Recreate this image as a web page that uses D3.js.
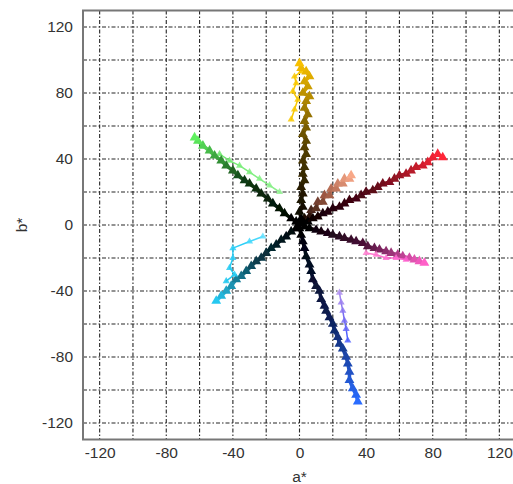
<!DOCTYPE html>
<html>
<head>
<meta charset="utf-8">
<script src="https://cdn.jsdelivr.net/npm/d3@7"></script>
<style>
  body { margin: 0; background: #fff; }
  text { font-family: "Liberation Sans", Arial, sans-serif; }
</style>
</head>
<body>
<div id="chart"></div>
<script>
// a*, b* pairs, one array per sample series
const yellowPts = [[0,1],[1,4],[0,8],[2,11],[1,15],[2,19],[1,23],[3,27],[2,31],[3,35],[2,39],[4,43],[3,47],[4,51],[2,55],[4,59],[3,63],[5,67],[3,71],[4,75],[6,78],[2,80],[5,84],[3,87],[6,90],[4,93],[1,95],[0,98]];
const yellowLightPts = [[-5,64],[-3,70],[-1,76],[-4,81],[-2,86],[-3,90],[1,93]];
const redPts = [[2,1],[5,2],[8,4],[11,5],[14,7],[17,8],[20,10],[24,11],[27,13],[30,15],[34,16],[37,18],[40,20],[44,21],[47,23],[50,25],[54,26],[57,28],[60,30],[64,31],[67,33],[70,35],[74,36],[77,38],[80,41],[83,43],[86,41]];
const salmonPts = [[3,4],[6,5],[7,9],[10,10],[11,14],[14,14],[15,18],[18,18],[19,22],[22,22],[23,25],[26,25],[27,28],[30,28],[31,30]];
const pinkPts = [[3,-1],[6,-2],[10,-3],[13,-4],[17,-5],[20,-6],[24,-7],[27,-8],[31,-9],[34,-10],[38,-11],[41,-13],[45,-14],[48,-15],[52,-16],[55,-17],[59,-18],[62,-19],[66,-20],[69,-21],[72,-22],[75,-23]];
const pinkLightPts = [[40,-17],[46,-18],[52,-20],[58,-20],[64,-21]];
const bluePts = [[0,-2],[1,-6],[2,-10],[3,-14],[4,-19],[6,-24],[7,-28],[8,-33],[10,-37],[12,-40],[13,-45],[15,-49],[16,-52],[18,-56],[20,-60],[21,-64],[23,-68],[24,-72],[26,-75],[28,-80],[29,-84],[30,-89],[30,-94],[32,-99],[34,-103],[35,-107]];
const lavenderPts = [[24,-41],[25,-47],[26,-52],[27,-58],[28,-63],[29,-70]];
const tealPts = [[-2,-2],[-5,-4],[-8,-7],[-11,-9],[-14,-12],[-17,-14],[-20,-17],[-23,-20],[-26,-22],[-29,-25],[-32,-28],[-35,-31],[-38,-33],[-41,-37],[-44,-40],[-47,-43],[-50,-46]];
const cyanLightPts = [[-22,-7],[-30,-10],[-40,-14],[-40,-20],[-42,-26],[-39,-30],[-44,-34]];
const greenPts = [[-2,2],[-5,4],[-9,7],[-12,10],[-16,13],[-19,16],[-23,19],[-26,22],[-30,25],[-33,27],[-37,30],[-40,33],[-44,36],[-47,39],[-51,42],[-54,45],[-58,48],[-61,51],[-63,53]];
const greenLightPts = [[-12,20],[-18,24],[-24,28],[-30,32],[-36,36],[-42,39],[-48,43]];

const tickValues = [-120, -80, -40, 0, 40, 80, 120];
const gridValues = d3.range(-120, 121, 20);

const width = 513, height = 484;
const svg = d3.select('#chart').append('svg')
  .attr('width', width)
  .attr('height', height);

// soft edge for the marks, the source picture is a bit blurred
svg.append('defs').append('filter')
  .attr('id', 'soft')
  .append('feGaussianBlur')
  .attr('stdDeviation', 0.6);

const x = d3.scaleLinear().domain([-130, 130]).range([83, 516]);
const y = d3.scaleLinear().domain([-130, 130]).range([439.5, 10.5]);

// grid
const grid = svg.append('g')
  .attr('stroke', '#000')
  .attr('stroke-width', 1.1)
  .attr('stroke-dasharray', '4,2,1.5,2')
  .attr('opacity', 0.85);
grid.selectAll('.vx').data(gridValues).join('line')
  .attr('x1', d => x(d)).attr('x2', d => x(d))
  .attr('y1', y(130)).attr('y2', y(-130));
grid.selectAll('.hy').data(gridValues).join('line')
  .attr('y1', d => y(d)).attr('y2', d => y(d))
  .attr('x1', x(-130)).attr('x2', x(130));

// frame
svg.append('rect')
  .attr('x', x(-130)).attr('y', y(130))
  .attr('width', x(130) - x(-130)).attr('height', y(-130) - y(130))
  .attr('fill', 'none').attr('stroke', '#777').attr('stroke-width', 2);

// series: dark near the origin, bright at the far end
const series = [
  { pts: bluePts, stops: ['#000000', '#0c1c50', '#2a6cff'] },
  { pts: lavenderPts, stops: ['#b090f0', '#8070f0', '#5060ff'], light: true },
  { pts: tealPts, stops: ['#000000', '#0a4050', '#28c8f0'] },
  { pts: cyanLightPts, stops: ['#60e0ff', '#30d0f8', '#20c8f0'], light: true },
  { pts: pinkPts, stops: ['#000000', '#4a1038', '#ff60c8'] },
  { pts: pinkLightPts, stops: ['#ff80d0', '#ff70d0', '#ff60d0'], light: true },
  { pts: greenLightPts, stops: ['#90f090', '#80f080', '#70e870'], light: true },
  { pts: greenPts, stops: ['#000000', '#0c3a12', '#60f060'] },
  { pts: yellowLightPts, stops: ['#f8c800', '#f8c800', '#f8c800'], light: true },
  { pts: salmonPts, stops: ['#1a0a06', '#a05a44', '#f8a888'] },
  { pts: redPts, stops: ['#000000', '#5a0818', '#ff2838'] },
  { pts: yellowPts, stops: ['#000000', '#5a4400', '#f8c000'] }
];

const tri = d3.symbol().type(d3.symbolTriangle);
const marks = svg.append('g').attr('filter', 'url(#soft)');

series.forEach(s => {
  const maxR = d3.max(s.pts, p => Math.hypot(p[0], p[1]));
  const minR = d3.min(s.pts, p => Math.hypot(p[0], p[1]));
  const color = d3.scaleLinear()
    .domain([minR, (minR + maxR) / 2, maxR])
    .range(s.stops)
    .interpolate(d3.interpolateRgb);
  const g = marks.append('g');

  // connecting segments
  g.selectAll('line').data(d3.pairs(s.pts)).join('line')
    .attr('x1', d => x(d[0][0])).attr('y1', d => y(d[0][1]))
    .attr('x2', d => x(d[1][0])).attr('y2', d => y(d[1][1]))
    .attr('stroke', d => color(Math.hypot(d[1][0], d[1][1])))
    .attr('stroke-width', s.light ? 1.5 : 3.5)
    .attr('stroke-linecap', 'round');

  // triangle markers
  g.selectAll('path').data(s.pts).join('path')
    .attr('d', tri.size(s.light ? 22 : 42))
    .attr('transform', d => `translate(${x(d[0])},${y(d[1])})`)
    .attr('fill', d => color(Math.hypot(d[0], d[1])))
    .attr('opacity', s.light ? 0.85 : 1);
});

// axes (labels only), plain hyphen minus like the source
const yAxis = svg.append('g')
  .attr('transform', `translate(${x(-130)},0)`)
  .call(d3.axisLeft(y).tickValues(tickValues).tickFormat(d => String(d)).tickSize(0).tickPadding(10));
const xAxis = svg.append('g')
  .attr('transform', `translate(0,${y(-130)})`)
  .call(d3.axisBottom(x).tickValues(tickValues).tickFormat(d => String(d)).tickSize(0).tickPadding(7));
[xAxis, yAxis].forEach(a => {
  a.select('.domain').remove();
  a.selectAll('text')
    .attr('font-size', 15.5)
    .attr('fill', '#333')
    .style('font-family', '"Liberation Sans", Arial, sans-serif');
});

svg.append('text')
  .attr('x', x(0))
  .attr('y', 482)
  .attr('text-anchor', 'middle')
  .attr('font-size', 15.5)
  .attr('fill', '#333')
  .text('a*');

svg.append('text')
  .attr('transform', `translate(27,${y(0)}) rotate(-90)`)
  .attr('text-anchor', 'middle')
  .attr('font-size', 15.5)
  .attr('fill', '#333')
  .text('b*');
</script>
</body>
</html>
